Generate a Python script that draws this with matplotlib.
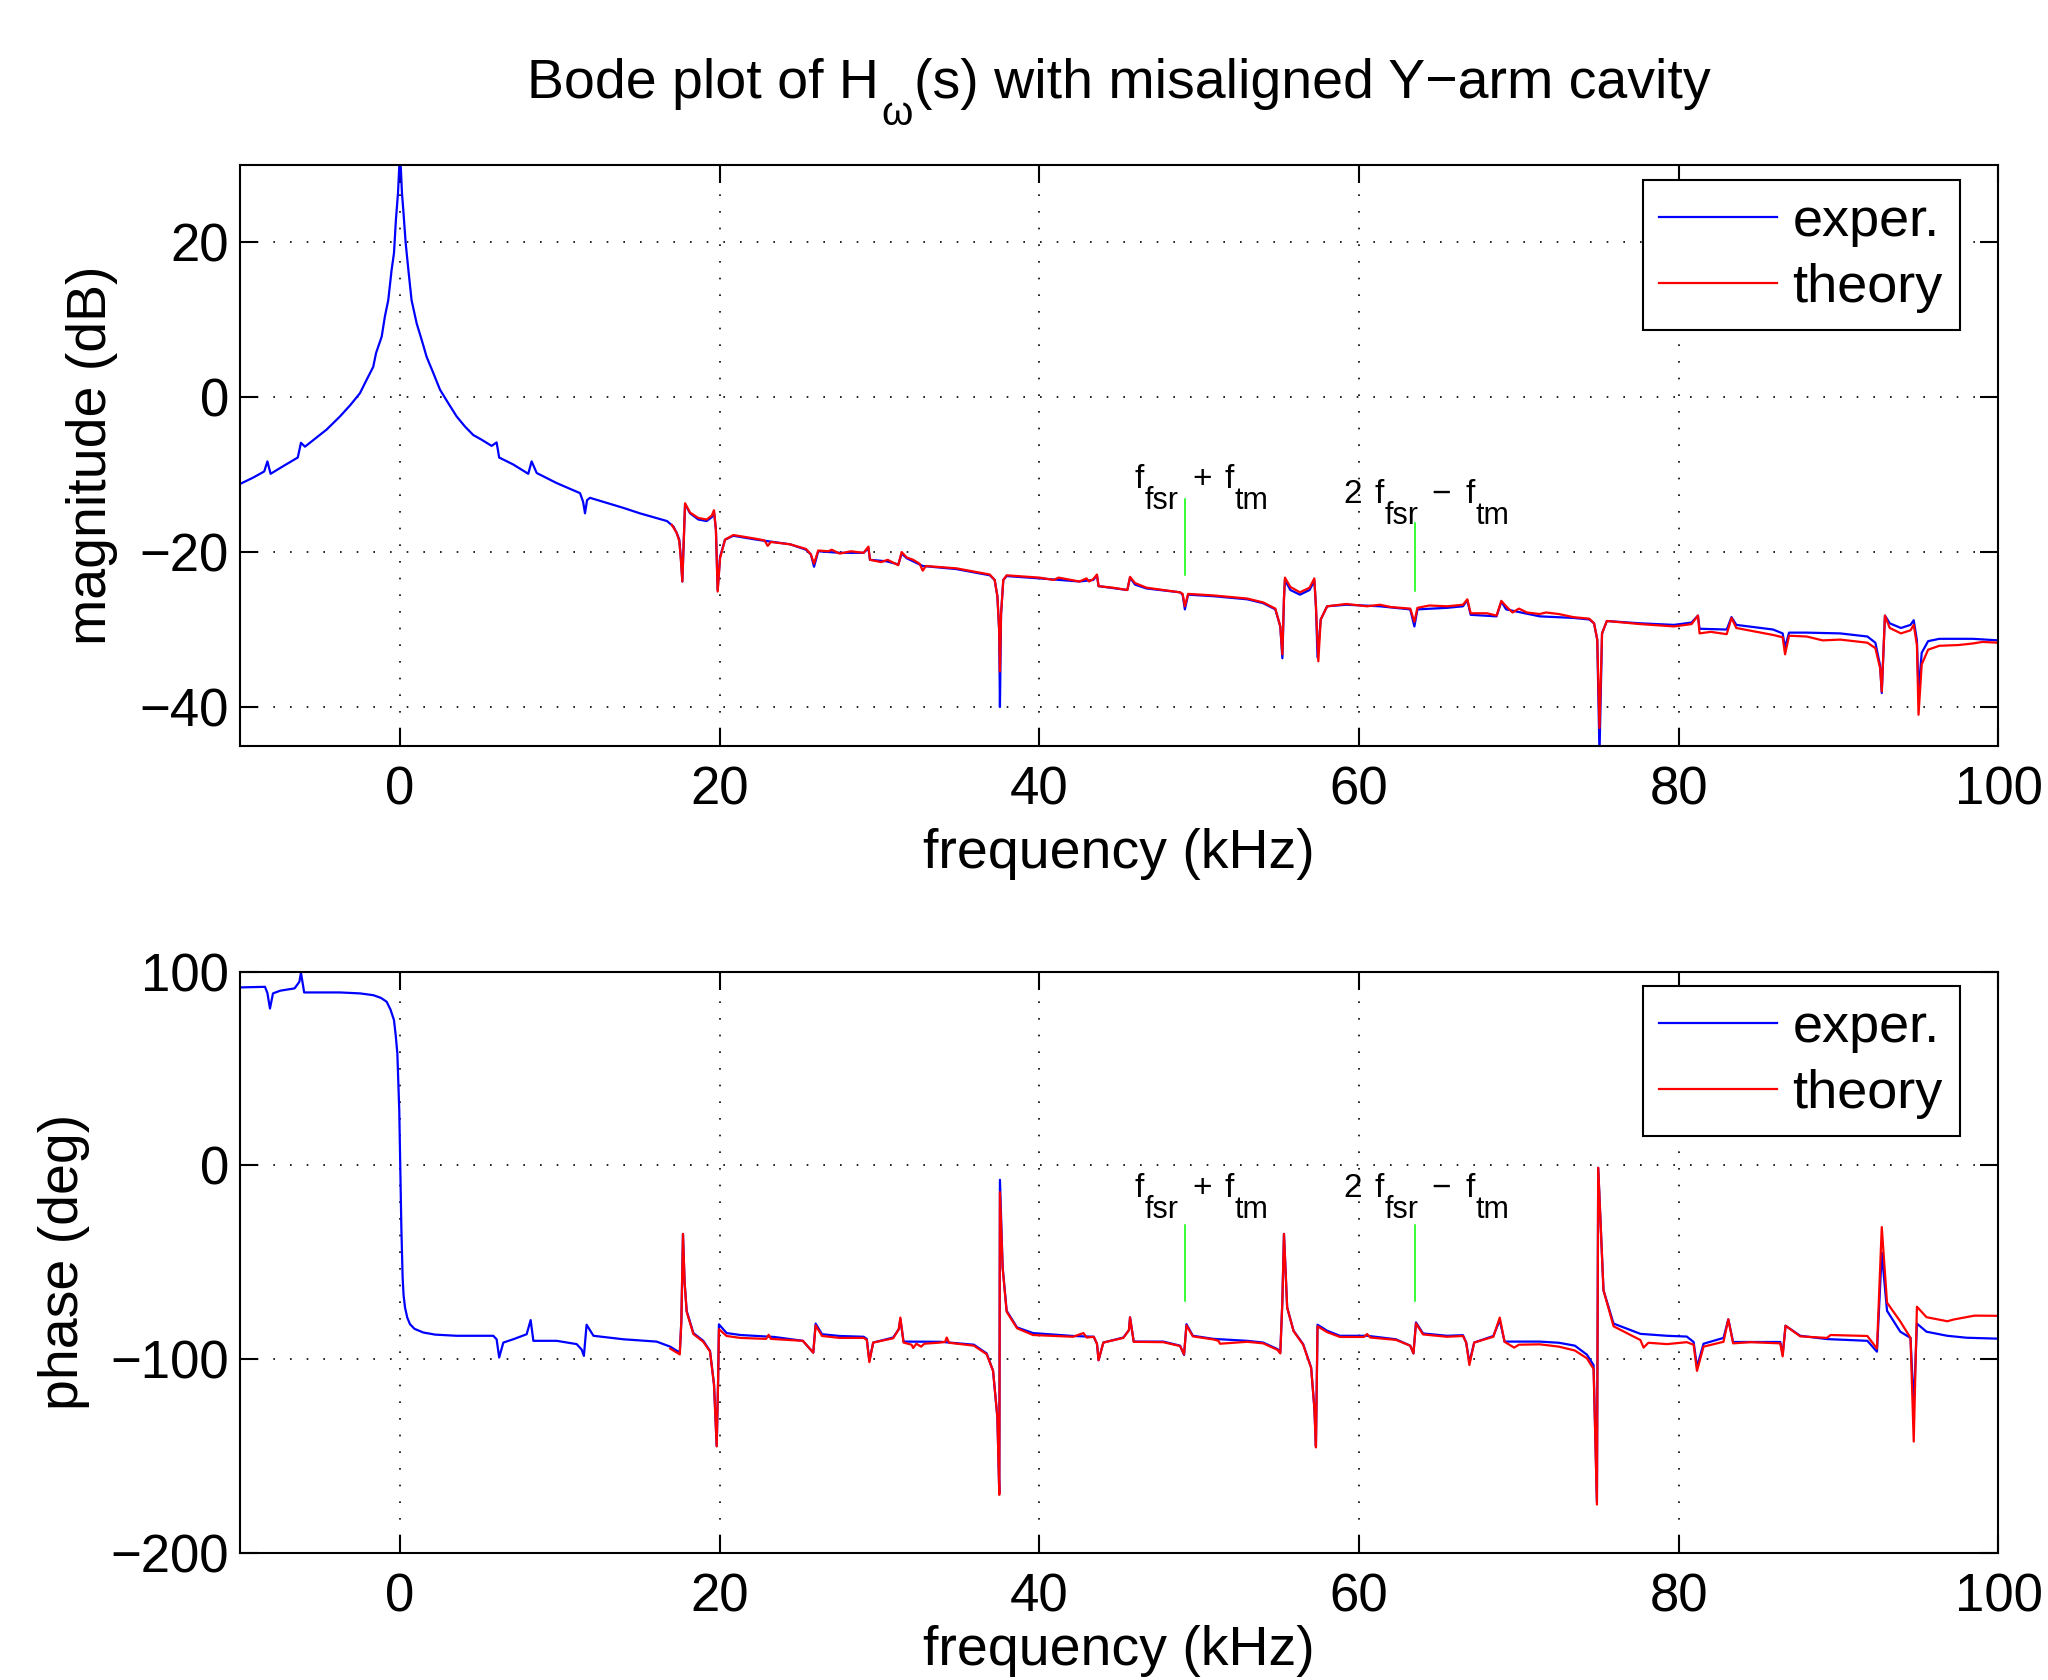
import numpy as np
import matplotlib
matplotlib.use('Agg')
import matplotlib.pyplot as plt
from matplotlib.transforms import offset_copy

# magnitude, measured (kHz, dB)
mag_exper = [
    (-10.0, -11.2), (-9.2, -10.4), (-8.5, -9.6), (-8.3, -8.3), (-8.1, -9.9),
    (-7.3, -8.9), (-6.4, -7.8), (-6.2, -5.9), (-5.95, -6.4), (-4.6, -4.2),
    (-3.76, -2.5), (-3.1, -1.0), (-2.51, 0.5), (-2.1, 2.2), (-1.68, 3.9),
    (-1.5, 5.7), (-1.15, 7.8), (-0.95, 10.4), (-0.74, 12.5), (-0.53, 16.4),
    (-0.38, 18.6), (-0.26, 22.9), (-0.13, 26.3), (-0.05, 29.8), (0.0, 30.5),
    (0.05, 29.5), (0.12, 26.3), (0.2, 24.2), (0.35, 19.9), (0.52, 16.4),
    (0.72, 12.5), (1.04, 9.5), (1.35, 7.4), (1.66, 5.2), (2.08, 3.1),
    (2.5, 0.95), (3.02, -0.8), (3.54, -2.5), (4.06, -3.8), (4.58, -4.9),
    (5.1, -5.5), (5.73, -6.3), (6.04, -5.85), (6.2, -7.8), (7.08, -8.7),
    (8.02, -9.9), (8.23, -8.3), (8.55, -9.8), (9.8, -11.1), (11.26, -12.4),
    (11.45, -13.5), (11.57, -15.0), (11.7, -13.3), (11.88, -13.0), (13.97, -14.3),
    (15.0, -15.0), (16.7, -16.0), (17.1, -16.7), (17.3, -17.5), (17.47, -18.4),
    (17.56, -20.5), (17.66, -23.8), (17.76, -18.0), (17.83, -13.8), (18.14, -15.0),
    (18.66, -15.8), (19.18, -16.0), (19.5, -15.5), (19.64, -14.8), (19.76, -17.1),
    (19.87, -24.9), (20.02, -20.6), (20.33, -18.4), (20.85, -17.9), (22.3, -18.4),
    (24.4, -19.0), (25.4, -19.7), (25.7, -20.3), (25.9, -21.9), (26.16, -19.9),
    (27.5, -20.1), (29.0, -20.1), (29.3, -19.5), (29.4, -21.0), (30.45, -21.2),
    (31.17, -21.6), (31.38, -20.2), (31.7, -20.8), (32.7, -21.8), (34.8, -22.2),
    (36.9, -23.0), (37.2, -23.6), (37.37, -25.7), (37.48, -30.0), (37.53, -40.0),
    (37.6, -28.0), (37.74, -23.6), (37.95, -23.1), (40.0, -23.4), (42.5, -23.8),
    (43.37, -23.6), (43.6, -23.0), (43.7, -24.4), (45.5, -24.9), (45.67, -23.3),
    (45.98, -24.2), (46.7, -24.7), (48.8, -25.2), (48.96, -25.5), (49.1, -27.4),
    (49.3, -25.5), (50.9, -25.7), (53.0, -26.1), (54.0, -26.6), (54.76, -27.4),
    (55.07, -29.6), (55.2, -33.7), (55.3, -26.0), (55.36, -23.6), (55.7, -24.9),
    (56.3, -25.5), (56.9, -24.9), (57.2, -23.7), (57.3, -27.0), (57.4, -33.6),
    (57.6, -28.7), (58.0, -27.0), (59.2, -26.8), (61.3, -27.0), (63.2, -27.4),
    (63.46, -29.6), (63.65, -27.4), (65.5, -27.2), (66.5, -27.0), (66.77, -26.2),
    (66.98, -28.1), (68.6, -28.3), (68.9, -26.4), (69.2, -27.4), (71.3, -28.3),
    (73.4, -28.5), (74.4, -28.7), (74.7, -29.2), (74.9, -31.3), (75.04, -46.0),
    (75.2, -30.5), (75.5, -28.9), (77.6, -29.2), (79.7, -29.4), (80.8, -29.1),
    (81.2, -28.2), (81.3, -29.9), (83.0, -30.0), (83.3, -28.4), (83.6, -29.4),
    (85.9, -30.0), (86.5, -30.5), (86.65, -32.3), (86.9, -30.4), (88.0, -30.4),
    (90.1, -30.5), (91.8, -30.9), (92.3, -31.7), (92.6, -34.7), (92.7, -38.2),
    (92.9, -28.2), (93.2, -29.2), (93.9, -29.8), (94.5, -29.4), (94.7, -28.8),
    (94.9, -31.4), (95.0, -38.0), (95.2, -33.0), (95.6, -31.5), (96.3, -31.2),
    (98.4, -31.2), (100.0, -31.4),
]

# magnitude, theory (kHz, dB)
mag_theory = [
    (17.0, -16.5), (17.3, -17.5), (17.47, -18.6), (17.56, -20.8), (17.66, -23.8),
    (17.76, -18.0), (17.83, -13.7), (18.14, -14.9), (18.66, -15.6), (19.18, -15.8),
    (19.5, -15.3), (19.64, -14.6), (19.76, -17.1), (19.87, -25.1), (20.02, -20.8),
    (20.33, -18.4), (20.85, -17.8), (22.3, -18.3), (22.8, -18.5), (23.0, -19.2),
    (23.2, -18.7), (24.4, -19.0), (25.4, -19.6), (25.7, -20.3), (25.9, -21.5),
    (26.16, -19.8), (26.8, -19.9), (27.0, -19.7), (27.5, -20.2), (28.2, -19.9),
    (29.0, -20.1), (29.3, -19.3), (29.4, -21.0), (30.1, -21.3), (30.5, -21.0),
    (31.17, -21.7), (31.38, -20.0), (31.7, -20.7), (32.1, -21.0), (32.5, -21.5),
    (32.7, -22.4), (32.9, -21.8), (34.8, -22.1), (36.9, -22.9), (37.2, -23.6),
    (37.37, -25.7), (37.48, -30.0), (37.53, -35.4), (37.6, -28.0), (37.74, -23.6),
    (37.95, -23.0), (40.0, -23.3), (40.9, -23.6), (41.2, -23.3), (42.5, -23.8),
    (42.95, -23.4), (43.1, -23.8), (43.37, -23.5), (43.6, -22.9), (43.7, -24.4),
    (44.6, -24.6), (45.5, -24.9), (45.67, -23.2), (45.98, -24.0), (46.7, -24.6),
    (48.8, -25.2), (48.96, -25.4), (49.1, -27.0), (49.3, -25.4), (50.9, -25.6),
    (53.0, -26.0), (54.0, -26.5), (54.76, -27.3), (55.07, -29.6), (55.2, -33.2),
    (55.3, -26.0), (55.36, -23.3), (55.7, -24.5), (56.3, -25.2), (56.9, -24.6),
    (57.2, -23.4), (57.3, -27.0), (57.45, -34.1), (57.6, -28.7), (58.0, -27.0),
    (59.2, -26.7), (60.5, -27.0), (61.3, -26.8), (62.0, -27.1), (63.2, -27.3),
    (63.46, -29.0), (63.65, -27.2), (64.4, -26.9), (65.5, -27.0), (66.5, -26.8),
    (66.77, -26.1), (66.98, -27.9), (68.0, -27.9), (68.6, -28.2), (68.9, -26.3),
    (69.2, -27.0), (69.6, -27.8), (70.0, -27.3), (70.5, -27.8), (71.3, -28.0),
    (71.7, -27.8), (72.5, -28.0), (73.4, -28.4), (74.4, -28.6), (74.7, -29.2),
    (74.9, -31.3), (75.04, -42.7), (75.2, -30.5), (75.5, -28.9), (77.6, -29.3),
    (79.7, -29.6), (80.8, -29.3), (81.2, -28.2), (81.3, -30.5), (82.0, -30.3),
    (83.0, -30.6), (83.3, -28.5), (83.6, -29.8), (85.9, -30.7), (86.5, -31.0),
    (86.65, -33.2), (86.9, -30.8), (88.0, -30.9), (89.0, -31.4), (90.1, -31.3),
    (91.8, -31.7), (92.3, -32.4), (92.6, -35.0), (92.7, -38.0), (92.9, -28.2),
    (93.2, -29.8), (93.9, -30.5), (94.5, -30.1), (94.7, -29.4), (94.9, -32.0),
    (95.0, -41.0), (95.2, -34.5), (95.6, -32.6), (96.3, -32.1), (97.5, -32.0),
    (98.4, -31.8), (99.0, -31.6), (100.0, -31.7),
]

# phase, measured (kHz, deg)
phase_exper = [
    (-10.0, 91.9), (-8.45, 92.2), (-8.3, 89.0), (-8.14, 81.0), (-7.95, 88.8),
    (-7.5, 90.2), (-6.6, 91.4), (-6.3, 94.8), (-6.2, 99.5), (-6.0, 89.3),
    (-3.76, 89.3), (-2.5, 88.8), (-1.68, 87.9), (-1.2, 86.5), (-0.84, 84.5),
    (-0.6, 80.5), (-0.38, 75.0), (-0.27, 67.0), (-0.17, 57.8), (-0.05, 28.4),
    (0.01, 0.0), (0.08, -31.9), (0.16, -57.8), (0.22, -67.0), (0.31, -73.3),
    (0.45, -78.5), (0.62, -81.9), (0.9, -84.3), (1.45, -86.2), (2.2, -87.3),
    (3.54, -87.9), (5.83, -87.9), (6.04, -89.7),
    (6.2, -99.1), (6.46, -91.4), (7.08, -89.7), (7.92, -87.1), (8.17, -79.8),
    (8.34, -90.5), (9.8, -90.5), (11.05, -92.2), (11.36, -95.0), (11.5, -98.3),
    (11.67, -82.2), (12.1, -87.9), (13.97, -89.7), (16.05, -90.9), (16.9, -93.5),
    (17.5, -96.6), (17.6, -80.0), (17.7, -35.3), (17.8, -60.0), (17.93, -75.0),
    (18.35, -86.5), (18.97, -90.5), (19.39, -95.7), (19.64, -112.9), (19.81, -144.8),
    (19.9, -110.0), (19.95, -82.0), (20.43, -86.5), (21.3, -87.5), (23.4, -88.5),
    (25.2, -90.5), (25.85, -96.6), (26.0, -81.6), (26.4, -87.1), (27.5, -88.0),
    (29.0, -88.4), (29.2, -89.5), (29.36, -100.9), (29.6, -91.4), (30.85, -88.8),
    (31.2, -84.5), (31.3, -79.3), (31.5, -90.9), (33.8, -91.0), (35.9, -92.5),
    (36.7, -97.0), (37.1, -106.0), (37.37, -130.0), (37.49, -169.0), (37.53, -7.4),
    (37.7, -52.6), (37.95, -75.0), (38.6, -83.6), (39.6, -86.5), (42.1, -88.0),
    (43.4, -88.4), (43.6, -92.0), (43.7, -100.5), (44.0, -91.4), (45.25, -88.8),
    (45.6, -85.0), (45.67, -78.4), (45.9, -90.9), (47.75, -90.9), (48.8, -93.0),
    (49.05, -97.8), (49.2, -81.9), (49.6, -87.9), (50.9, -89.5), (53.0, -90.5),
    (54.0, -91.4), (54.9, -94.8), (55.07, -96.6), (55.2, -70.0), (55.3, -35.3),
    (55.5, -73.3), (55.9, -85.3), (56.5, -92.2), (57.0, -104.3), (57.2, -125.0),
    (57.3, -144.8), (57.4, -82.2), (58.0, -85.3), (58.8, -87.9), (60.5, -87.9),
    (62.3, -89.7), (63.2, -93.0), (63.4, -97.0), (63.56, -81.0), (64.0, -86.7),
    (65.5, -87.9), (66.5, -87.6), (66.7, -91.4), (66.9, -101.7), (67.2, -91.4),
    (68.4, -88.0), (68.8, -79.8), (69.1, -90.9), (71.3, -90.9), (72.5, -91.5),
    (73.5, -93.0), (74.25, -97.6), (74.67, -103.0), (74.88, -173.6), (74.96, -1.2),
    (75.29, -64.4), (75.92, -81.6), (77.6, -86.9), (79.26, -87.9), (80.5, -88.3),
    (80.93, -91.1), (81.14, -104.0), (81.55, -92.0), (82.8, -89.0), (83.1, -79.4),
    (83.4, -91.1), (86.35, -91.1), (86.5, -97.6), (86.68, -82.7), (87.6, -87.9),
    (89.27, -89.6), (91.8, -90.5), (92.4, -96.1), (92.7, -45.0), (93.03, -75.0),
    (93.86, -85.8), (94.5, -89.0), (94.7, -125.0), (94.9, -81.6), (95.5, -85.8),
    (96.8, -87.9), (98.0, -88.9), (100.0, -89.4),
]

# phase, theory (kHz, deg)
phase_theory = [
    (16.9, -94.5), (17.5, -97.5), (17.6, -80.0), (17.7, -35.3), (17.8, -60.0),
    (17.93, -75.5), (18.35, -87.0), (18.97, -91.0), (19.39, -96.0), (19.64, -113.0),
    (19.81, -145.0), (19.9, -110.0), (19.95, -84.5), (20.43, -88.0), (21.3, -89.0),
    (22.9, -89.5), (23.06, -87.4), (23.2, -89.5), (25.2, -90.5), (25.85, -96.6),
    (26.0, -82.5), (26.4, -88.0), (27.5, -89.0), (29.0, -89.0), (29.2, -90.0),
    (29.36, -101.5), (29.6, -91.4), (30.85, -89.2), (31.2, -84.5), (31.3, -78.5),
    (31.5, -91.4), (32.0, -92.5), (32.1, -94.2), (32.3, -92.0), (32.6, -93.5),
    (32.8, -92.0), (33.8, -91.4), (34.1, -91.0), (34.2, -88.8), (34.35, -91.5),
    (35.9, -93.0), (36.7, -97.4), (37.1, -106.0), (37.37, -130.0), (37.49, -170.0),
    (37.53, -13.8), (37.7, -53.0), (37.95, -75.5), (38.6, -84.0), (39.6, -87.5),
    (42.1, -88.4), (42.75, -86.5), (42.96, -88.8), (43.4, -88.4), (43.6, -92.0),
    (43.7, -100.5), (44.0, -91.4), (45.25, -89.0), (45.6, -85.0), (45.67, -78.4),
    (45.9, -91.0), (47.75, -91.2), (48.8, -93.2), (49.05, -97.5), (49.2, -82.5),
    (49.6, -88.2), (50.9, -89.8), (51.2, -90.5), (51.3, -92.0), (53.0, -91.0),
    (54.0, -91.8), (54.9, -95.2), (55.07, -97.0), (55.2, -70.0), (55.3, -35.3),
    (55.5, -73.3), (55.9, -85.5), (56.5, -92.5), (57.0, -104.5), (57.2, -125.0),
    (57.3, -145.5), (57.4, -83.0), (58.0, -86.0), (58.8, -88.5), (60.3, -88.5),
    (60.5, -87.0), (60.7, -88.8), (62.3, -90.0), (63.2, -93.0), (63.4, -97.0),
    (63.56, -81.5), (64.0, -87.2), (65.5, -88.4), (66.5, -88.0), (66.7, -91.4),
    (66.9, -103.0), (67.2, -91.4), (68.4, -88.4), (68.8, -78.5), (69.1, -91.0),
    (69.7, -94.0), (70.0, -92.5), (71.3, -92.3), (72.5, -93.5), (73.5, -95.5),
    (74.25, -99.5), (74.67, -105.0), (74.88, -175.0), (74.96, -1.2), (75.29, -64.4),
    (75.92, -83.0), (77.6, -90.1), (77.8, -94.0), (78.1, -91.5), (79.26, -92.2),
    (80.5, -91.2), (80.93, -92.5), (81.14, -106.0), (81.55, -93.5), (82.8, -91.0),
    (83.1, -79.4), (83.4, -91.8), (84.5, -91.2), (86.35, -91.8), (86.5, -98.5),
    (86.68, -82.7), (87.6, -88.2), (89.27, -89.0), (89.5, -87.5), (91.8, -88.0),
    (92.4, -94.5), (92.7, -31.8), (93.03, -70.8), (93.86, -80.5), (94.5, -89.0),
    (94.7, -142.5), (94.9, -72.9), (95.5, -78.3), (96.8, -80.4), (97.2, -79.5),
    (98.0, -78.3), (98.5, -77.5), (100.0, -77.6),
]

# green markers: frequency and (bottom, top) of the segment on each plot
marker_freqs = [49.1, 63.5]
marker_mag = [(-23.0, -13.2), (-25.0, -16.3)]
marker_phase = [(-70.2, -30.5), (-70.2, -30.5)]
# label pieces: (text, is_subscript)
marker_labels = [
    [('f', False), ('fsr', True), ('+', False), ('f', False), ('tm', True)],
    [('2', False), ('f', False), ('fsr', True), ('\u2212', False), ('f', False), ('tm', True)],
]
text_x = [45.95, 59.0]
text_mag_y = [-11.7, -13.7]
text_phase_y = [-16.4, -16.4]

title_pieces = [('Bode plot of H', False), ('\u03c9', True),
                ('(s) with misaligned Y\u2212arm cavity', False)]

freq_ticks = [0, 20, 40, 60, 80, 100]
mag_ticks = [-40, -20, 0, 20]
phase_ticks = [-200, -100, 0, 100]

plt.rcParams['font.family'] = ['Liberation Sans', 'DejaVu Sans']


def unzip(pairs):
    arr = np.array(pairs, dtype=float)
    return arr[:, 0], arr[:, 1]


def tex_text(parent, trans, x, y, pieces, size, sub_size, sub_drop, gaps,
             center=False):
    """Write text with MATLAB-like subscripts, piece by piece (gaps in px)."""
    renderer = fig.canvas.get_renderer()
    made = []
    for (s, is_sub), gap in zip(pieces, gaps):
        t = parent.text(x, y, s, fontsize=sub_size if is_sub else size,
                        va='baseline', ha='left', transform=trans)
        made.append((t, is_sub, gap, t.get_window_extent(renderer).width))
    dx = 0.0
    if center:
        dx = -sum(w + g for _, _, g, w in made) / 2
    for t, is_sub, gap, w in made:
        t.set_transform(offset_copy(trans, fig=fig, x=dx,
                                    y=-sub_drop if is_sub else 0, units='dots'))
        dx += w + gap


def style_axes(ax, yticks, ylim, ylabel, ylabelpad, xlabelpad):
    ax.set_xlim(-10, 100)
    ax.set_ylim(*ylim)
    ax.set_xticks(freq_ticks)
    ax.set_yticks(yticks)
    ax.grid(True, color='k', linestyle=(0, (1, 9)), linewidth=1.2)
    ax.tick_params(direction='in', top=True, right=True, length=13, width=1.5,
                   labelsize=38)
    ax.tick_params(axis='x', pad=14)
    ax.tick_params(axis='y', pad=8)
    for s in ax.spines.values():
        s.set_linewidth(1.5)
    ax.set_xlabel('frequency (kHz)', fontsize=40, labelpad=xlabelpad)
    ax.set_ylabel(ylabel, fontsize=40, labelpad=ylabelpad)


def add_legend(ax, top):
    leg = ax.legend(loc='upper right', bbox_to_anchor=(0.978, top),
                    borderaxespad=0, fontsize=39, handlelength=2.17,
                    handletextpad=0.29, borderpad=0.31, labelspacing=0.3,
                    fancybox=False, framealpha=1)
    leg.get_frame().set_edgecolor('k')
    leg.get_frame().set_linewidth(1.5)


# px gaps after each label piece
label_gaps = [[1, 13, 13, 1, 0], [13, 1, 12, 15, 1, 0]]


def add_markers(ax, spans, ys):
    for x, (y0, y1), pieces, gaps, tx, ty in zip(marker_freqs, spans, marker_labels,
                                                 label_gaps, text_x, ys):
        ax.plot([x, x], [y0, y1], color='#00ff00', lw=1.1)
        tex_text(ax, ax.transData, tx, ty, pieces, 24, 22, 21, gaps)


fig = plt.figure(figsize=(20.48, 16.8), dpi=100)
ax1 = fig.add_axes([0.1173, 0.5561, 0.8585, 0.3459])
ax2 = fig.add_axes([0.1173, 0.0756, 0.8585, 0.3460])

f, v = unzip(mag_exper)
ax1.plot(f, v, color='b', lw=1.6, label='exper.')
f, v = unzip(mag_theory)
ax1.plot(f, v, color='r', lw=1.6, label='theory')
style_axes(ax1, mag_ticks, (-45, 30), 'magnitude (dB)', 16, 9)
add_legend(ax1, 0.9735)

f, v = unzip(phase_exper)
ax2.plot(f, v, color='b', lw=1.6, label='exper.')
f, v = unzip(phase_theory)
ax2.plot(f, v, color='r', lw=1.6, label='theory')
style_axes(ax2, phase_ticks, (-200, 100), 'phase (deg)', 14.5, 2)
add_legend(ax2, 0.9754)

add_markers(ax1, marker_mag, text_mag_y)
add_markers(ax2, marker_phase, text_phase_y)

# title, centred over the axes, with a dropped subscript
tex_text(fig, fig.transFigure, 0.5464, 1 - 98 / 1680, title_pieces, 40, 29, 27,
         [2, 2, 0], center=True)

fig.savefig('out.png', dpi=100)
